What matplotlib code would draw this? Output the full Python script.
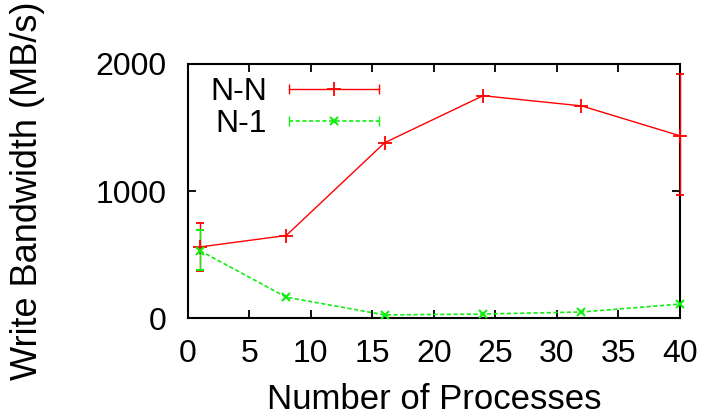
import matplotlib.pyplot as plt
from matplotlib.legend_handler import HandlerLine2D
from matplotlib.lines import Line2D
import numpy as np

procs = [1, 8, 16, 24, 32, 40]

nn_bw = [560, 650, 1380, 1750, 1670, 1435]
nn_lo = [370, 650, 1380, 1750, 1670, 965]
nn_hi = [750, 650, 1380, 1750, 1670, 1920]

n1_bw = [530, 165, 25, 32, 48, 110]
n1_lo = [380, 165, 25, 32, 48, 110]
n1_hi = [695, 165, 25, 32, 48, 110]

plt.rcParams['font.family'] = ['Liberation Sans', 'DejaVu Sans']

RED = '#ff0000'
GREEN = '#11ee11'


# legend sample like gnuplot: horizontal line with end caps
class CapHandler(HandlerLine2D):
    def create_artists(self, legend, orig_handle, xdescent, ydescent,
                       width, height, fontsize, trans):
        arts = super().create_artists(legend, orig_handle, xdescent, ydescent,
                                      width, height, fontsize, trans)
        y = height / 2 - ydescent
        caps = Line2D([-xdescent, width - xdescent], [y, y], ls='none',
                      marker='|', ms=7, mew=1, color=orig_handle.get_color(),
                      transform=trans)
        return list(arts) + [caps]


fig = plt.figure(figsize=(7.06, 4.18), dpi=100)
ax = fig.add_axes([0.266, 0.239, 0.697, 0.608])

nn = np.array(nn_bw)
n1 = np.array(n1_bw)
nn_err = [nn - np.array(nn_lo), np.array(nn_hi) - nn]
n1_err = [n1 - np.array(n1_lo), np.array(n1_hi) - n1]
nn_mask = [h != l for h, l in zip(nn_hi, nn_lo)]
n1_mask = [h != l for h, l in zip(n1_hi, n1_lo)]

c1 = ax.errorbar(procs, nn, yerr=nn_err, errorevery=nn_mask, color=RED,
                 lw=1, marker='+', ms=10, mew=1.3, capsize=3, elinewidth=1,
                 label='N-N', clip_on=False, zorder=3)
c2 = ax.errorbar(procs, n1, yerr=n1_err, errorevery=n1_mask, color=GREEN,
                 lw=1.2, ls=(0, (2.5, 1.5)), marker='x', ms=6, mew=1.5,
                 capsize=3, elinewidth=1, label='N-1', clip_on=False, zorder=3)

ax.set_xlim(0, 40)
ax.set_ylim(0, 2000)
ax.set_xticks(range(0, 41, 5))
ax.set_yticks([0, 1000, 2000])
ax.tick_params(direction='in', top=True, right=True, length=6, width=1.3,
               labelsize=23, pad=15)
for s in ax.spines.values():
    s.set_linewidth(1.5)

ax.set_xlabel('Number of Processes', fontsize=25)
ax.xaxis.set_label_coords(0.5, -0.256)
ax.set_ylabel('Write Bandwidth (MB/s)', fontsize=26)
ax.yaxis.set_label_coords(-0.29, 0.5)

leg = ax.legend(handles=[c1.lines[0], c2.lines[0]], labels=['N-N', 'N-1'],
                handler_map={Line2D: CapHandler()},
                loc='upper left', markerfirst=False, frameon=False,
                fontsize=23, handlelength=2.8, handletextpad=0.7,
                labelspacing=0.05, borderpad=0, borderaxespad=0,
                bbox_to_anchor=(0.045, 0.947))
for t in leg.get_texts():
    t.set_ha('right')

fig.savefig('out.png', dpi=100)
